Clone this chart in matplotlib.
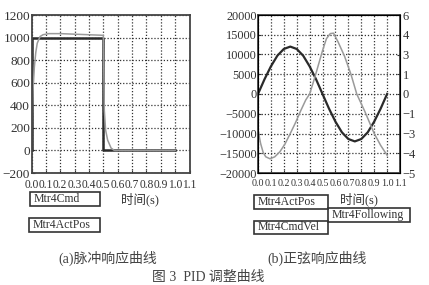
import matplotlib
matplotlib.use('Agg')
import matplotlib.pyplot as plt
from matplotlib.patches import Rectangle

SERIF = ['Liberation Serif', 'Noto Sans CJK SC']

# (a) pulse response
cmd_t = [0.0, 0.0, 0.5, 0.5, 1.0]
cmd_v = [0, 1000, 1000, 0, 0]
act_t = [0.0, 0.005, 0.01, 0.02, 0.03, 0.04, 0.06, 0.08, 0.12, 0.2, 0.3, 0.4, 0.5,
         0.507, 0.516, 0.53, 0.554, 0.577, 0.6, 1.0]
act_v = [0, 300, 520, 740, 870, 950, 1010, 1025, 1035, 1035, 1030, 1025, 1020,
         357, 180, 92, 21, 0, 0, 0]

# (b) sine response
pos_t = [0.0, 0.05, 0.1, 0.15, 0.2, 0.25, 0.3, 0.35, 0.4, 0.45, 0.5,
         0.55, 0.6, 0.65, 0.7, 0.75, 0.8, 0.85, 0.9, 0.95, 1.0]
pos_v = [0, 3700, 7000, 9700, 11400, 12000, 11400, 9700, 7000, 3700, 0,
         -3700, -7000, -9700, -11400, -12000, -11400, -9700, -7000, -3700, 0]
vel_t = [0.0, 0.02, 0.04, 0.06, 0.093, 0.13, 0.17, 0.21, 0.25, 0.29, 0.33, 0.37,
         0.40, 0.44, 0.47, 0.50, 0.53, 0.56, 0.585, 0.62, 0.67, 0.72, 0.765,
         0.83, 0.90, 0.95, 1.0]
vel_v = [-2.7, -3.75, -4.44, -4.77, -4.92, -4.77, -4.38, -3.78, -3.0, -2.19, -1.29,
         -0.45, 0.0, 1.26, 2.28, 3.3, 4.2, 4.59, 4.62, 3.96, 2.88, 1.5, 0.0,
         -1.38, -3.0, -3.9, -4.65]

x_ticks = [i / 10 for i in range(12)]
x_labels = ['%.1f' % v for v in x_ticks]
left_yticks = [-200, 0, 200, 400, 600, 800, 1000, 1200]
right_yticks = [-20000, -15000, -10000, -5000, 0, 5000, 10000, 15000, 20000]
twin_ticks = [-6, -4.5, -3, -1.5, 0, 1.5, 3, 4.5, 6]
twin_labels = ['−5', '−4', '−3', '−1', '0', '1', '3', '4', '6']

W, H = 429, 285
fig = plt.figure(figsize=(W / 100, H / 100), dpi=100)


def px(x0, y0, x1, y1):
    return [x0 / W, 1 - y1 / H, (x1 - x0) / W, (y1 - y0) / H]


def style(ax, size):
    ax.set_xlim(0, 1.1)
    ax.set_xticks(x_ticks)
    ax.set_xticklabels(x_labels)
    ax.grid(True, color='#333333', linestyle=(0, (1, 1.5)), linewidth=0.9)
    for s in ax.spines.values():
        s.set_color('#444444')
        s.set_linewidth(1.3)
    ax.tick_params(direction='in', length=2, pad=1, colors='#333333')
    ax.tick_params(axis='x', pad=4)
    for lab in ax.get_xticklabels() + ax.get_yticklabels():
        lab.set_family(SERIF)
        lab.set_fontsize(size)


ax1 = fig.add_axes(px(31.5, 15, 189.5, 173))
ax1.plot(cmd_t, cmd_v, color='#2a2a2a', lw=1.8)
ax1.plot(act_t, act_v, color='#9a9a9a', lw=1.1)
ax1.set_ylim(-200, 1200)
ax1.set_yticks(left_yticks)
ax1.set_yticklabels([str(v).replace('-', '−') for v in left_yticks])
style(ax1, 9.5)
for lab in ax1.get_xticklabels():
    lab.set_fontsize(8.3)

ax2 = fig.add_axes(px(258, 15, 400, 173))
ax2.plot(pos_t, pos_v, color='#2a2a2a', lw=1.6)
ax2.set_ylim(-20000, 20000)
ax2.set_yticks(right_yticks)
ax2.set_yticklabels([str(v).replace('-', '−') for v in right_yticks])
style(ax2, 8.8)
for lab in ax2.get_xticklabels():
    lab.set_fontsize(7.2)
ax3 = ax2.twinx()
ax3.plot(vel_t, vel_v, color='#9a9a9a', lw=1.1)
ax3.set_ylim(-6, 6)
ax3.set_yticks(twin_ticks)
ax3.set_yticklabels(twin_labels)
ax3.tick_params(direction='in', length=2, pad=2, colors='#333333')
for lab in ax3.get_yticklabels():
    lab.set_family(SERIF)
    lab.set_fontsize(9)

# axis titles
fig.text(140 / W, 1 - 199 / H, '时间(s)', family=SERIF, fontsize=9,
         ha='center', va='center', color='#333333')
fig.text(359 / W, 1 - 199 / H, '时间(s)', family=SERIF, fontsize=9,
         ha='center', va='center', color='#333333')

# boxed legend labels
boxes = [(30, 192, 100, 206, 'Mtr4Cmd'),
         (29, 218, 100, 232, 'Mtr4ActPos'),
         (254, 195, 328, 209, 'Mtr4ActPos'),
         (328, 208, 410, 222, 'Mtr4Following'),
         (254, 221, 328, 234, 'Mtr4CmdVel')]
for x0, y0, x1, y1, name in boxes:
    fig.patches.append(Rectangle((x0 / W, 1 - y1 / H), (x1 - x0) / W, (y1 - y0) / H,
                                 transform=fig.transFigure, fill=False,
                                 edgecolor='#333333', lw=1.2))
    fig.text((x0 + 4) / W, 1 - (y0 + y1) / 2 / H, name, family=SERIF, fontsize=8.5,
             ha='left', va='center', color='#333333')

fig.text(108 / W, 1 - 258 / H, '(a)脉冲响应曲线', family=SERIF, fontsize=10,
         ha='center', va='center', color='#444444')
fig.text(317 / W, 1 - 258 / H, '(b)正弦响应曲线', family=SERIF, fontsize=10,
         ha='center', va='center', color='#444444')
fig.text(208 / W, 1 - 277 / H, '图 3  PID 调整曲线', family=SERIF, fontsize=10,
         ha='center', va='center', color='#444444')

fig.savefig('out.png', dpi=100, facecolor='white')
